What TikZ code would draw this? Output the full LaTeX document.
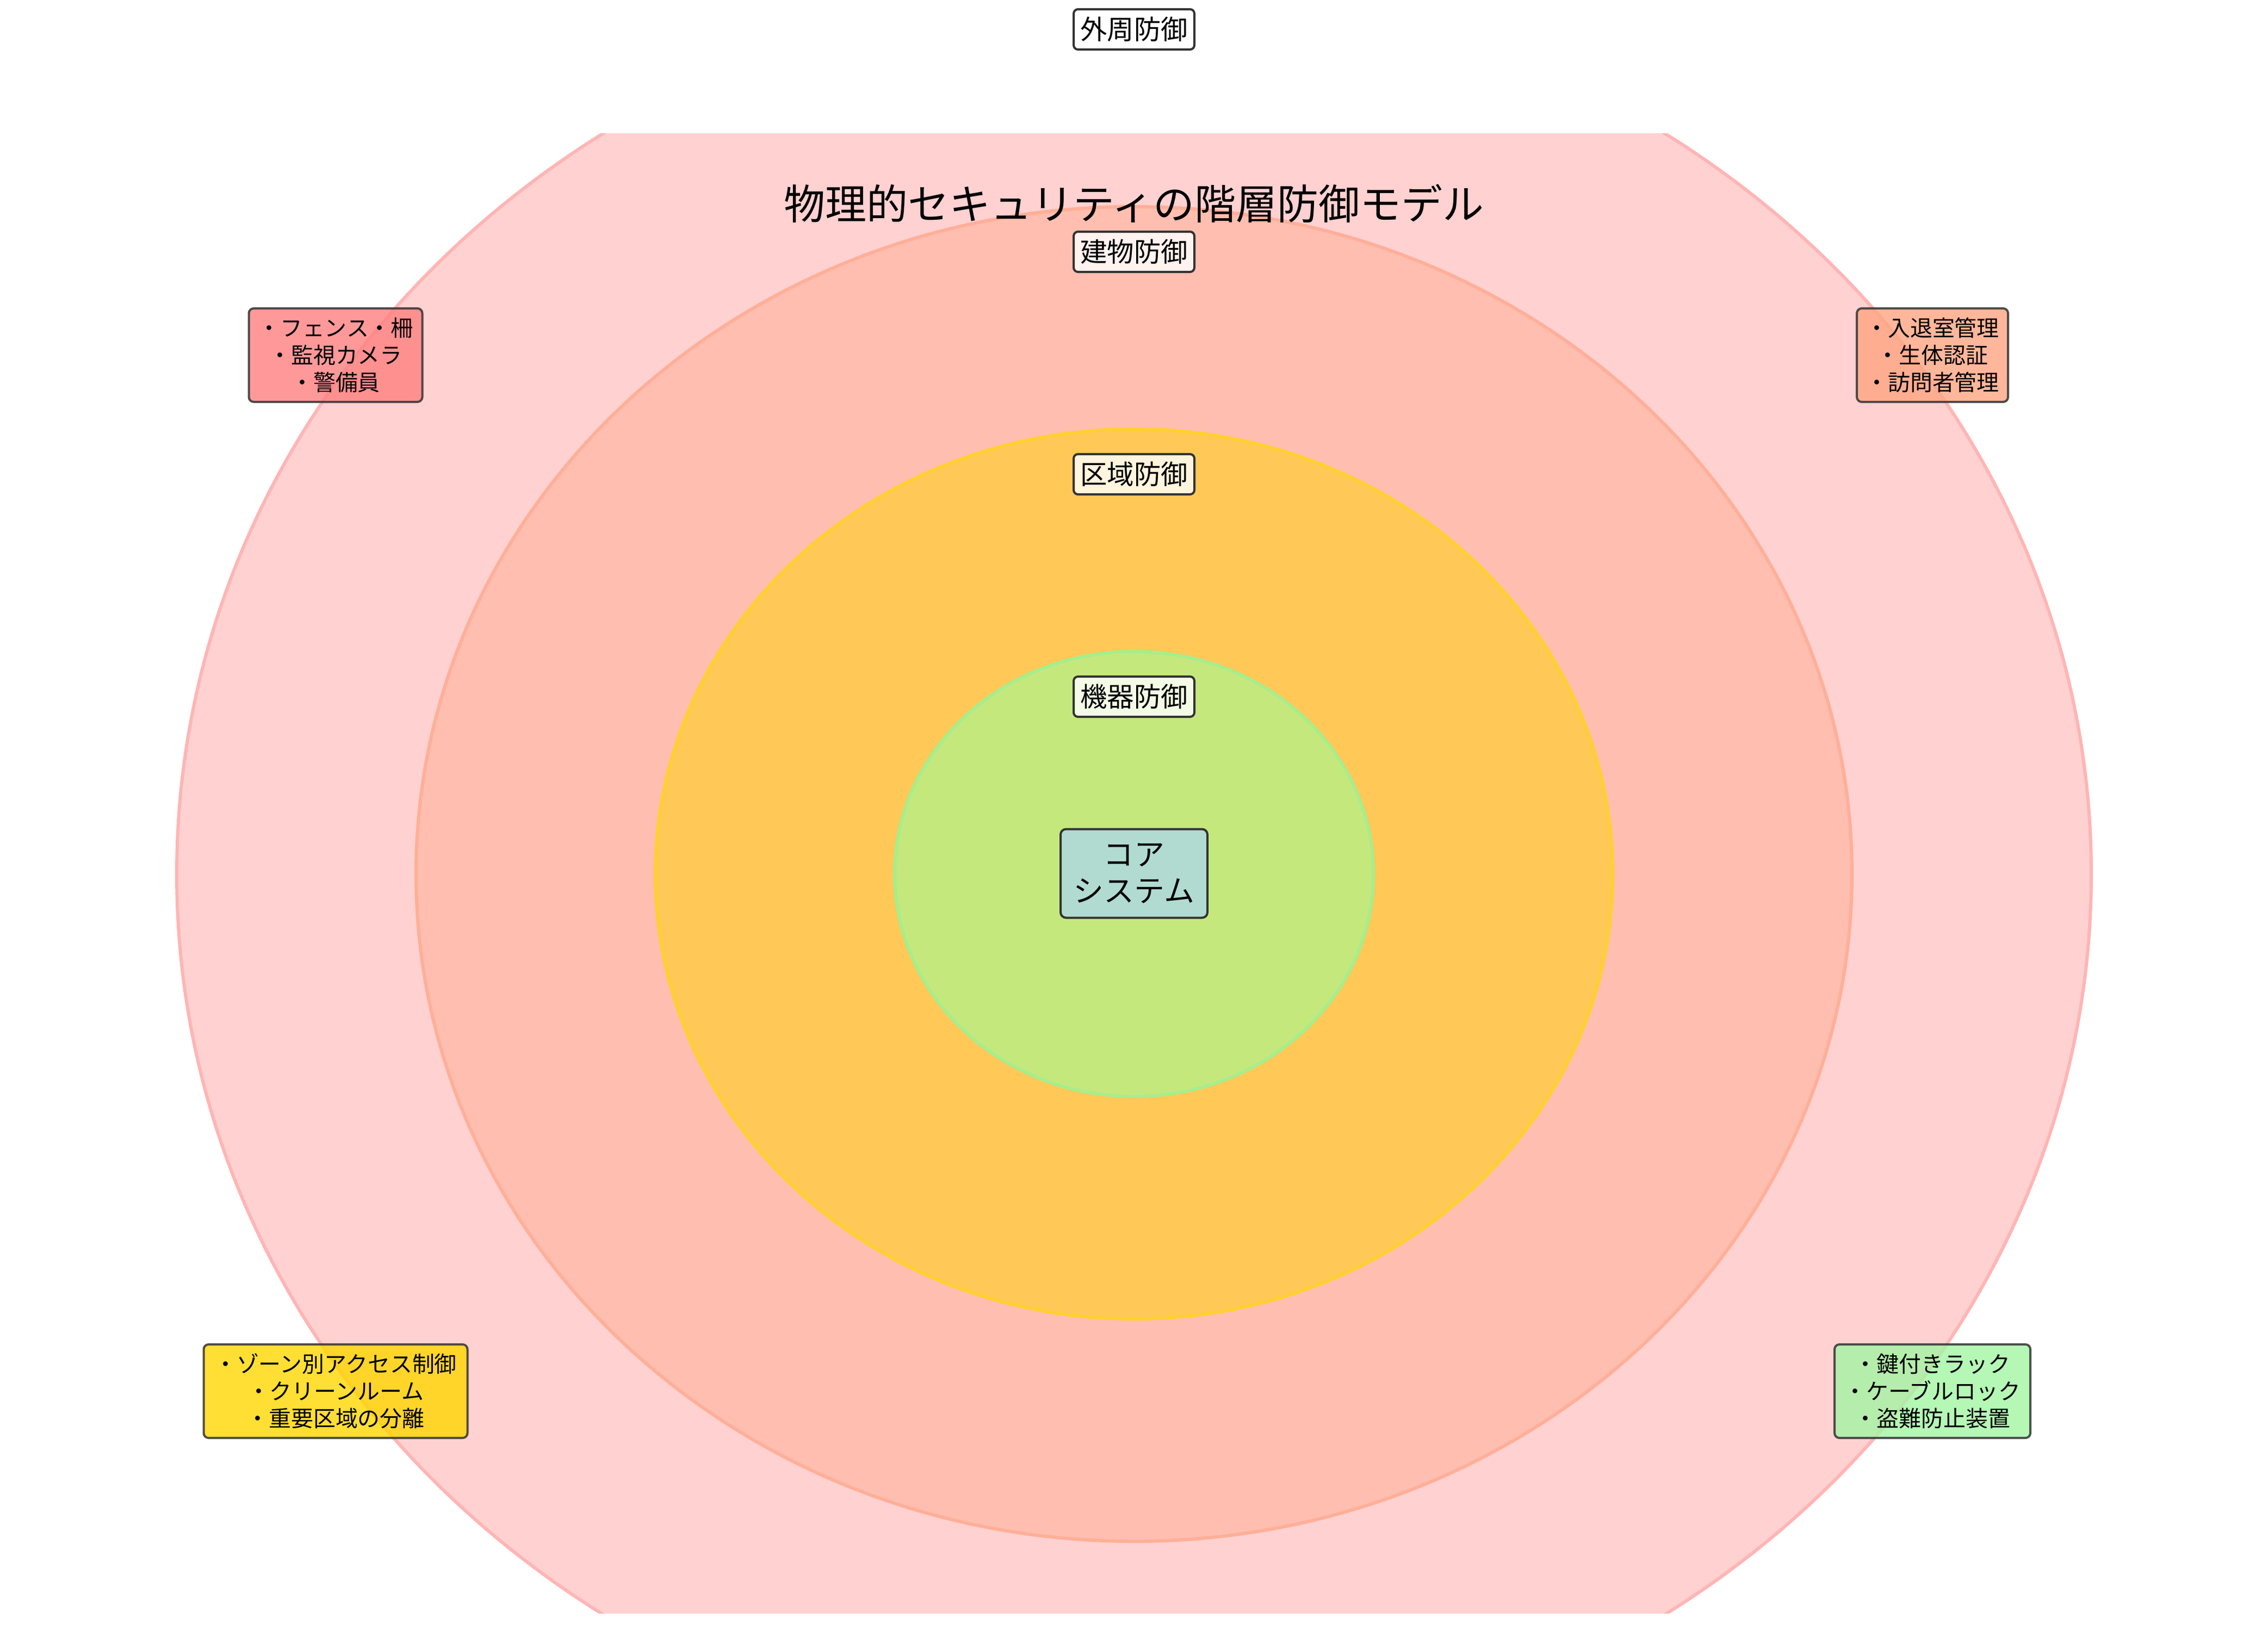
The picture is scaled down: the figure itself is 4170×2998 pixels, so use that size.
\documentclass[tikz,border=0pt]{standalone}
\usepackage{fontspec}
\setmainfont{Noto Sans CJK JP}
\newlength\pxu
\setlength\pxu{0.2409pt}
\definecolor{outerfill}{HTML}{FFD1D1}
\definecolor{outeredge}{HTML}{FFB5B5}
\definecolor{bldfill}{HTML}{FFBEAF}
\definecolor{bldedge}{HTML}{FFAF98}
\definecolor{zonefill}{HTML}{FFC857}
\definecolor{zoneedge}{HTML}{FFD030}
\definecolor{eqfill}{HTML}{C5E87D}
\definecolor{eqedge}{HTML}{A6EE8C}
\definecolor{boxline}{HTML}{333333}
\definecolor{tlfill}{HTML}{FF8080}
\definecolor{trfill}{HTML}{FFA582}
\definecolor{blfill}{HTML}{FFD700}
\definecolor{brfill}{HTML}{A3F5A3}
\definecolor{corefill}{HTML}{ADD8E6}
\tikzset{
  ring/.style={line width=6\pxu},
  layerlabel/.style={draw=boxline, line width=4\pxu, rounded corners=8\pxu,
    fill=white, fill opacity=0.8, text opacity=1, inner sep=0pt,
    minimum width=222\pxu, minimum height=74\pxu,
    font=\fontsize{11.9pt}{14pt}\selectfont},
  infobox/.style={draw=boxline, draw opacity=0.85, line width=4\pxu, rounded corners=9\pxu,
    fill opacity=0.8, text opacity=1, inner sep=0pt, align=center,
    minimum height=172\pxu,
    font=\fontsize{9.85pt}{12.05pt}\selectfont},
  corebox/.style={draw=boxline, line width=4\pxu, rounded corners=10\pxu,
    fill=corefill, fill opacity=0.8, text opacity=1, inner sep=0pt, align=center,
    minimum width=270\pxu, minimum height=163\pxu,
    font=\fontsize{13.5pt}{16.1pt}\selectfont},
  titletext/.style={inner sep=0pt, font=\fontsize{18.3pt}{22pt}\selectfont}
}
\begin{document}
\begin{tikzpicture}[x=\pxu, y=-\pxu]
\useasboundingbox (0,0) rectangle (4170,2998);
\fill[white] (0,0) rectangle (4170,2998);
\coordinate (ctr) at (2085,1607);
\begin{scope}
  \clip (0,245) rectangle (4170,2966);
  \filldraw[ring, fill=outerfill, draw=outeredge] (ctr) ellipse [x radius=1760, y radius=1636];
  \filldraw[ring, fill=bldfill, draw=bldedge] (ctr) ellipse [x radius=1320, y radius=1227];
  \filldraw[ring, fill=zonefill, draw=zoneedge] (ctr) ellipse [x radius=880, y radius=818];
  \filldraw[ring, fill=eqfill, draw=eqedge] (ctr) ellipse [x radius=440, y radius=409];
\end{scope}
\node[layerlabel] (lbl4) at (2085,54) {外周防御};
\node[layerlabel] (lbl3) at (2085,463) {建物防御};
\node[layerlabel] (lbl2) at (2085,872) {区域防御};
\node[layerlabel] (lbl1) at (2085,1281) {機器防御};
\node[infobox, fill=tlfill, minimum width=319\pxu] (tl) at (617,653) {・フェンス・柵\\・監視カメラ\\・警備員};
\node[infobox, fill=trfill, minimum width=278\pxu] (tr) at (3553,653) {・入退室管理\\・生体認証\\・訪問者管理};
\node[infobox, fill=blfill, minimum width=485\pxu] (bl) at (617,2558) {・ゾーン別アクセス制御\\・クリーンルーム\\・重要区域の分離};
\node[infobox, fill=brfill, minimum width=360\pxu] (br) at (3553,2558) {・鍵付きラック\\・ケーブルロック\\・盗難防止装置};
\node[corebox] (core) at (2085,1606) {コア\\システム};
\node[titletext] (title) at (2085,374) {物理的セキュリティの階層防御モデル};
\end{tikzpicture}
\end{document}
